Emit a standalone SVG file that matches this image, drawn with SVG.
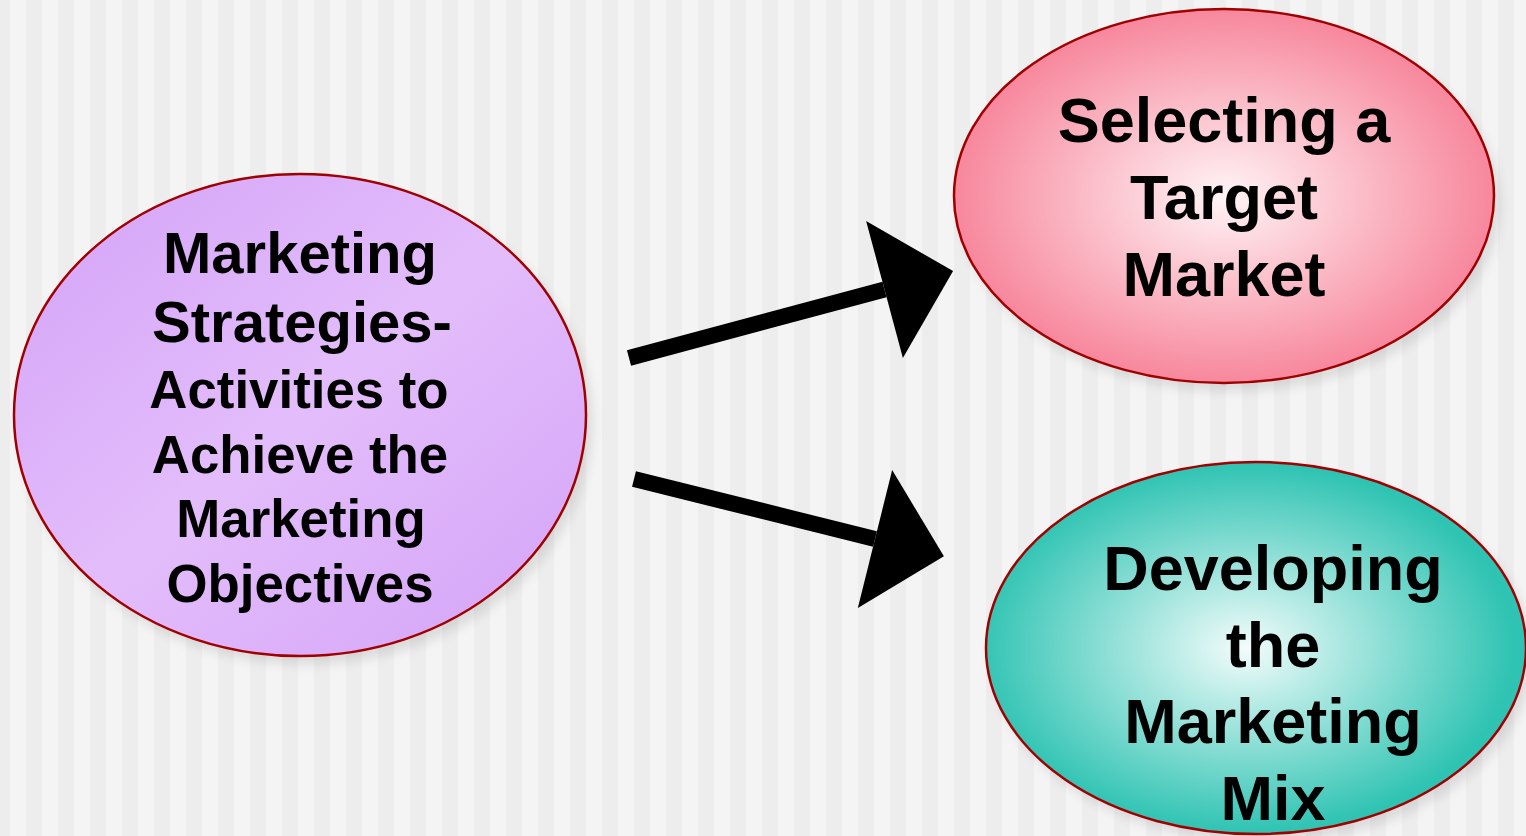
<svg xmlns="http://www.w3.org/2000/svg" width="1526" height="836" viewBox="0 0 1526 836">
  <defs>
    <pattern id="stripes" x="10" y="0" width="32" height="836" patternUnits="userSpaceOnUse">
      <rect x="0" y="0" width="16" height="836" fill="#f4f4f4"/>
      <rect x="16" y="0" width="16" height="836" fill="#ededed"/>
    </pattern>
    <linearGradient id="gPurple" x1="0" y1="0" x2="1" y2="1">
      <stop offset="0" stop-color="#d3a2f7"/>
      <stop offset="0.5" stop-color="#e3bdfb"/>
      <stop offset="1" stop-color="#d3a2f7"/>
    </linearGradient>
    <radialGradient id="gPink" cx="0.5" cy="0.5" r="0.5">
      <stop offset="0" stop-color="#fff4f6"/>
      <stop offset="1" stop-color="#f7879c"/>
    </radialGradient>
    <radialGradient id="gTeal" cx="0.48" cy="0.5" r="0.5">
      <stop offset="0" stop-color="#f2fcfb"/>
      <stop offset="1" stop-color="#2ec3b2"/>
    </radialGradient>
    <filter id="shadow" x="-20%" y="-20%" width="140%" height="140%">
      <feGaussianBlur stdDeviation="6"/>
    </filter>
    <marker id="head" markerUnits="userSpaceOnUse" markerWidth="72" markerHeight="142" refX="0" refY="71" orient="auto" overflow="visible">
      <path d="M0,0 L71,71 L0,142 Z" fill="#000"/>
    </marker>
    <style>
      .node { stroke: #a00000; stroke-width: 2.5; }
      .shadow { fill: #000; opacity: 0.10; filter: url(#shadow); }
      .label { font-family: "Liberation Sans", Arial, sans-serif; font-weight: bold; fill: #000; text-anchor: middle; }
      .s58 { font-size: 58px; }
      .s53 { font-size: 52.8px; }
      .s63 { font-size: 63px; }
      .conn { stroke: #000; stroke-width: 16; fill: none; marker-end: url(#head); }
    </style>
  </defs>

  <rect x="0" y="0" width="1526" height="836" fill="url(#stripes)"/>

  <g id="node-strategies">
    <ellipse class="shadow" cx="306" cy="423" rx="286" ry="241"/>
    <ellipse class="node" cx="300" cy="415" rx="286" ry="241" fill="url(#gPurple)"/>
    <text class="label s58" x="300" y="273">Marketing</text>
    <text class="label s58" x="302" y="342">Strategies-</text>
    <text class="label s53" x="299" y="408">Activities to</text>
    <text class="label s53" x="300" y="473">Achieve the</text>
    <text class="label s53" x="301" y="537">Marketing</text>
    <text class="label s53" x="300" y="602">Objectives</text>
  </g>

  <g id="node-target">
    <ellipse class="shadow" cx="1230" cy="204" rx="270" ry="187"/>
    <ellipse class="node" cx="1224" cy="196" rx="270" ry="187" fill="url(#gPink)"/>
    <text class="label s63" x="1224" y="142">Selecting a</text>
    <text class="label s63" x="1224" y="219">Target</text>
    <text class="label s63" x="1224" y="296">Market</text>
  </g>

  <g id="node-mix">
    <ellipse class="shadow" cx="1262" cy="656" rx="270" ry="186"/>
    <ellipse class="node" cx="1256" cy="648" rx="270" ry="186" fill="url(#gTeal)"/>
    <text class="label s63" x="1273" y="590">Developing</text>
    <text class="label s63" x="1273" y="667">the</text>
    <text class="label s63" x="1273" y="743">Marketing</text>
    <text class="label s63" x="1273" y="820">Mix</text>
  </g>

  <g id="connectors">
    <line class="conn" x1="629" y1="358" x2="884.5" y2="289.5"/>
    <line class="conn" x1="634" y1="479" x2="875" y2="539"/>
  </g>
</svg>
